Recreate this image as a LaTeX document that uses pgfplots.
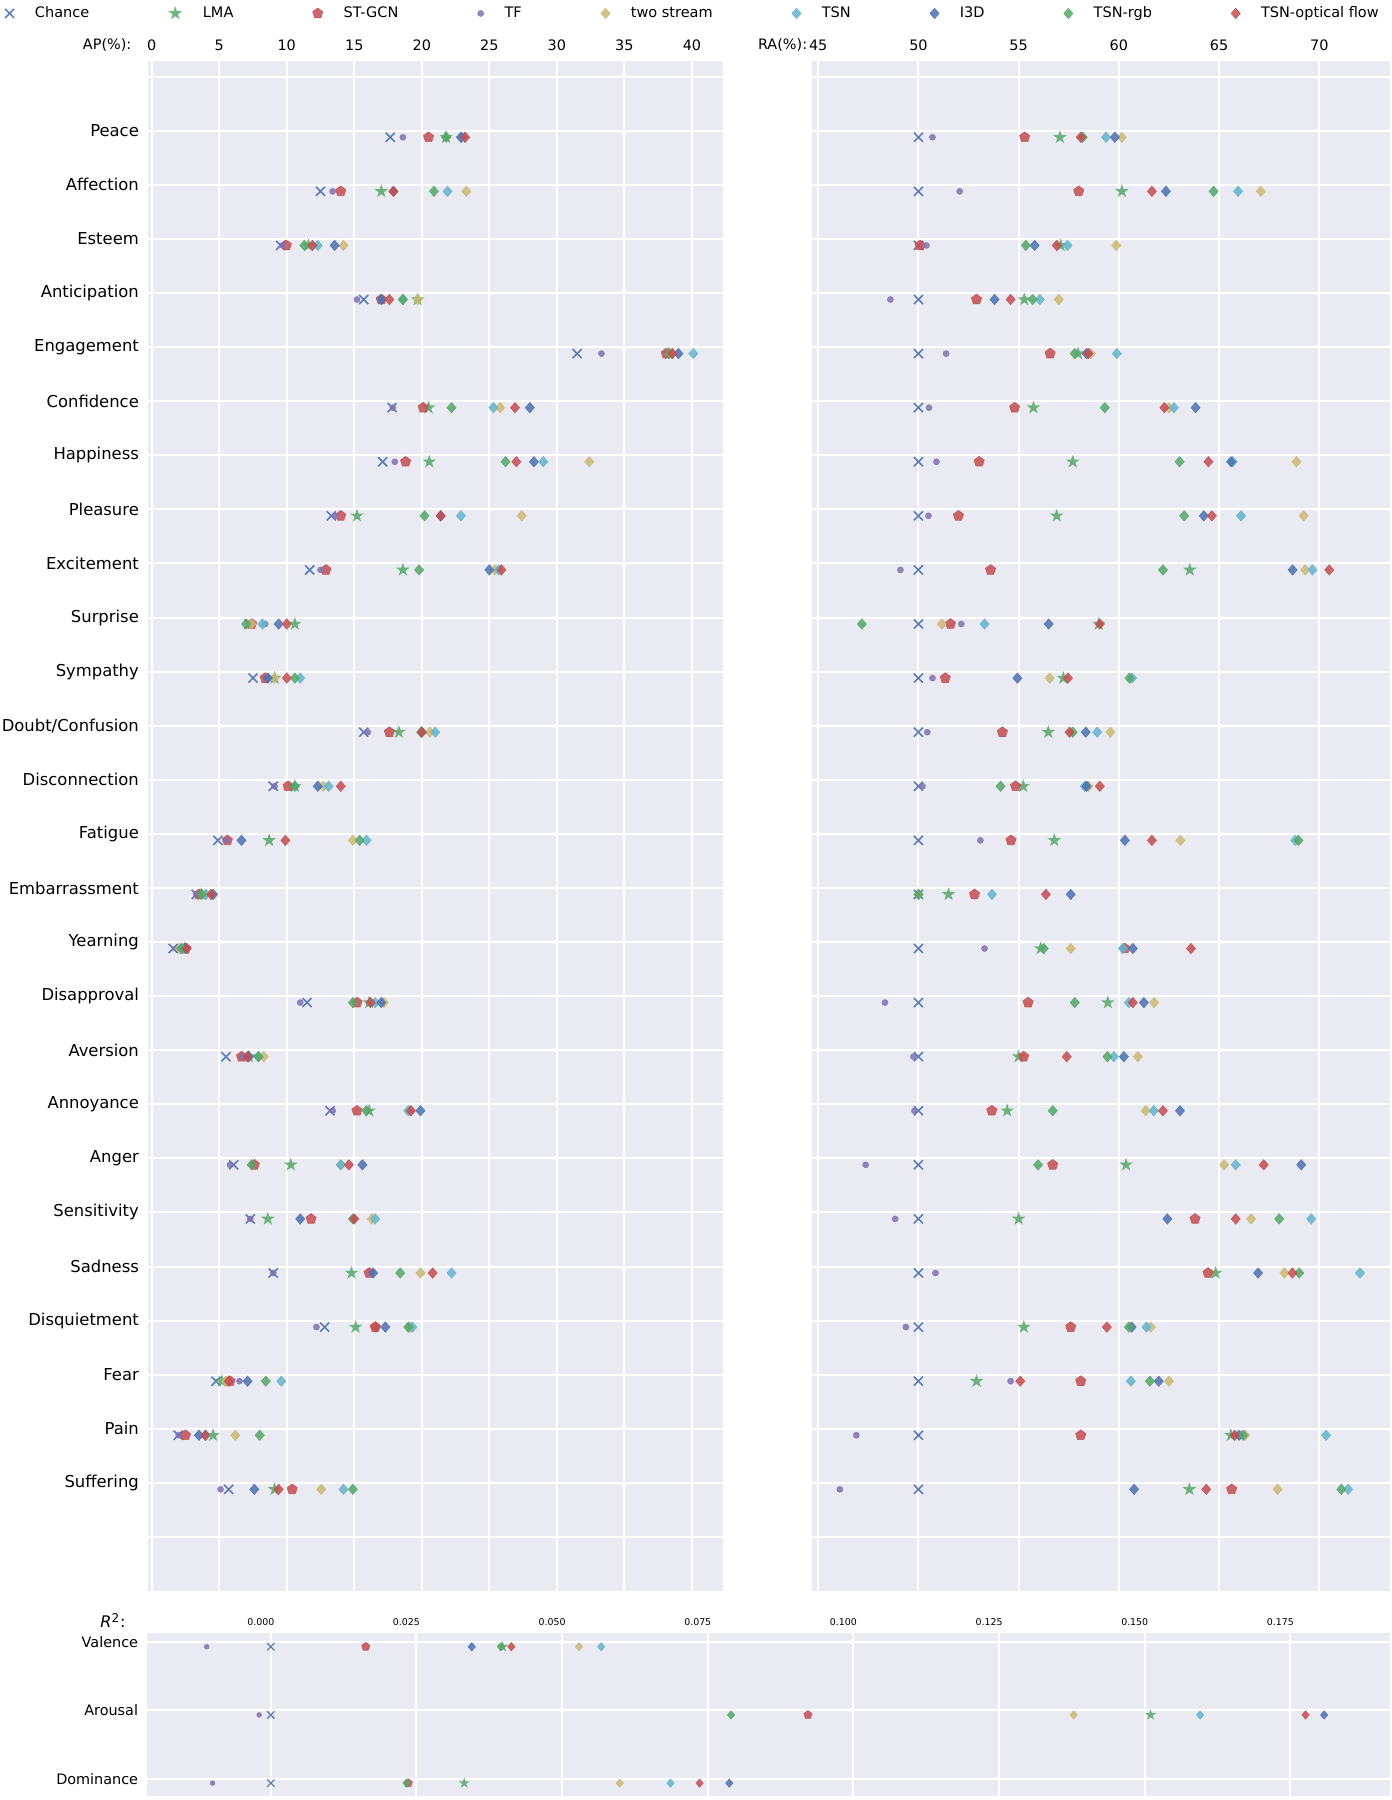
\documentclass[border=0pt]{standalone}
\usepackage{fontspec}
\setmainfont{DejaVu Sans}
\usepackage{pgfplots}
\pgfplotsset{compat=1.18}
\usepackage{pgfplotstable}
\usetikzlibrary{plotmarks}
\definecolor{cblue}{HTML}{4C72B0}
\definecolor{cgreen}{HTML}{55A868}
\definecolor{cred}{HTML}{C44E52}
\definecolor{cpurple}{HTML}{8172B2}
\definecolor{cyellow}{HTML}{CCB974}
\definecolor{ccyan}{HTML}{64B5CD}
\definecolor{bgc}{HTML}{EAEAF2}
\newcommand\fs[1]{\fontsize{#1}{#1}\selectfont}
\pgfdeclareplotmark{fstar}{%
 \pgfpathmoveto{\pgfpointpolar{90}{\pgfplotmarksize}}%
 \pgfpathlineto{\pgfpointpolar{126}{0.382\pgfplotmarksize}}%
 \pgfpathlineto{\pgfpointpolar{162}{\pgfplotmarksize}}%
 \pgfpathlineto{\pgfpointpolar{198}{0.382\pgfplotmarksize}}%
 \pgfpathlineto{\pgfpointpolar{234}{\pgfplotmarksize}}%
 \pgfpathlineto{\pgfpointpolar{270}{0.382\pgfplotmarksize}}%
 \pgfpathlineto{\pgfpointpolar{306}{\pgfplotmarksize}}%
 \pgfpathlineto{\pgfpointpolar{342}{0.382\pgfplotmarksize}}%
 \pgfpathlineto{\pgfpointpolar{18}{\pgfplotmarksize}}%
 \pgfpathlineto{\pgfpointpolar{54}{0.382\pgfplotmarksize}}%
 \pgfpathclose
 \pgfusepathqfill}
\pgfplotsset{
 mk/.style={only marks, legend image code/.code={\draw[mark repeat=1,##1] plot coordinates {(0pt,0pt)};}},
 pChance/.style={mk, mark=x, mark size=#1*3.2pt, color=cblue, mark options={line width=#1*0.8pt, draw opacity=0.9}},
 pLMA/.style={mk, mark=fstar, mark size=#1*3.6pt, color=cgreen, mark options={fill opacity=0.85}},
 pST/.style={mk, mark=pentagon*, mark size=#1*2.7pt, color=cred, mark options={fill opacity=0.85, draw opacity=0.85, line width=0.3pt}},
 pTF/.style={mk, mark=*, mark size=#1*1.55pt, color=cpurple, mark options={fill opacity=0.85, draw opacity=0.85, line width=0.2pt}},
 pTwo/.style={mk, mark=diamond*, mark size=#1*2.6pt, color=cyellow, mark options={xscale=1.17, fill opacity=0.85, draw opacity=0.85, line width=0.3pt}},
 pTSN/.style={mk, mark=diamond*, mark size=#1*2.6pt, color=ccyan, mark options={xscale=1.17, fill opacity=0.85, draw opacity=0.85, line width=0.3pt}},
 pI3D/.style={mk, mark=diamond*, mark size=#1*2.6pt, color=cblue, mark options={xscale=1.17, fill opacity=0.85, draw opacity=0.85, line width=0.3pt}},
 pRGB/.style={mk, mark=diamond*, mark size=#1*2.6pt, color=cgreen, mark options={xscale=1.17, fill opacity=0.85, draw opacity=0.85, line width=0.3pt}},
 pOPT/.style={mk, mark=diamond*, mark size=#1*2.6pt, color=cred, mark options={xscale=1.17, fill opacity=0.85, draw opacity=0.85, line width=0.3pt}},
 base/.style={scale only axis, anchor=south west, y dir=reverse,
   axis background/.style={fill=bgc}, axis line style={draw=none},
   major tick length=0pt, tick style={draw=none}, grid=major,
   major grid style={white, line width=1pt},
   xticklabel pos=upper, /pgf/number format/assume math mode=true},
}
\pgfplotstableread{
Chance LMA STGCN TF Two TSN I3D RGB OPT
17.66 21.8 20.5 18.6 23.2 22.95 22.9 21.8 23.2
12.5 17.0 14.0 13.4 23.3 21.9 17.9 20.9 17.9
9.55 11.6 9.97 9.7 14.2 12.3 13.55 11.3 11.9
15.7 19.7 17.0 15.2 19.7 18.6 17.0 18.6 17.6
31.5 38.3 38.1 33.3 38.5 40.1 39.0 38.3 38.55
17.8 20.5 20.1 17.85 25.8 25.3 28.0 22.2 26.9
17.1 20.55 18.8 18.0 32.4 29.0 28.3 26.2 27.0
13.3 15.2 14.0 13.6 27.4 22.9 21.4 20.2 21.4
11.7 18.6 12.9 12.5 25.4 25.7 25.0 19.8 25.9
7.2 10.6 7.4 8.4 7.4 8.2 9.4 7.0 10.0
7.5 9.1 8.4 8.5 9.1 11.0 8.6 10.6 10.0
15.7 18.3 17.6 16.0 20.6 21.0 20.0 19.95 20.0
9.0 10.6 10.1 9.1 12.7 13.1 12.3 10.6 14.0
4.9 8.7 5.6 5.5 14.9 15.9 6.65 15.4 9.9
3.3 3.7 3.5 3.3 4.0 4.0 4.55 3.7 4.4
1.6 2.45 2.5 1.8 2.07 2.3 2.5 2.2 2.6
11.5 16.1 15.2 11.0 17.2 16.55 17.0 14.9 16.2
5.5 7.2 6.65 6.7 8.3 7.9 7.2 7.9 7.1
13.2 16.1 15.2 13.4 19.1 19.0 19.9 15.9 19.2
6.07 10.3 7.6 5.8 14.0 14.0 15.6 7.4 14.6
7.3 8.6 11.8 7.3 16.3 16.55 11.0 14.9 15.0
9.0 14.8 16.1 9.0 19.9 22.2 16.4 18.4 20.8
12.8 15.1 16.55 12.2 19.1 19.3 17.3 19.0 16.6
4.76 5.2 5.8 6.5 5.5 9.6 7.1 8.45 5.7
1.97 4.55 2.5 2.0 6.2 4.0 3.5 8.0 3.97
5.7 9.1 10.4 5.1 12.55 14.2 7.6 14.9 9.4
}\apdata
\pgfplotstableread{
Chance LMA STGCN TF Two TSN I3D RGB OPT
50 57.06 55.3 50.7 60.15 59.36 59.8 58.2 58.1
50 60.15 58.0 52.06 67.08 65.95 62.35 64.73 61.65
50 57.1 50.08 50.4 59.87 57.44 55.8 55.36 56.9
50 55.28 52.9 48.6 57.0 56.06 53.8 55.7 54.6
50 57.97 56.57 51.38 58.6 59.9 58.39 57.8 58.48
50 55.74 54.8 50.53 62.5 62.75 63.83 59.3 62.27
50 57.7 53.03 50.9 68.86 65.68 65.6 63.03 64.47
50 56.9 52.0 50.5 69.22 66.1 64.24 63.26 64.64
50 63.54 53.6 49.1 69.3 69.66 68.67 62.2 70.5
50 59.0 51.6 52.14 51.17 53.3 56.5 47.18 59.05
50 57.23 51.34 50.7 56.55 60.66 54.94 60.53 57.46
50 56.48 54.19 50.44 59.58 58.92 58.35 57.7 57.54
50 55.23 54.85 50.2 58.48 58.3 58.39 54.1 59.05
50 56.78 54.62 53.09 63.07 68.8 60.3 68.96 61.65
50 51.5 52.8 50.0 50.0 53.67 57.6 50.0 56.36
50 56.1 60.3 53.3 57.6 60.2 60.7 56.25 63.6
50 59.45 55.47 48.33 61.76 60.5 61.25 57.8 60.7
50 55.0 55.25 49.75 60.95 59.75 60.25 59.43 57.4
50 54.43 53.66 49.8 61.34 61.74 63.05 56.7 62.2
50 60.36 56.7 47.37 65.25 65.83 69.1 55.97 67.23
50 55.0 63.8 48.84 66.6 69.6 62.42 68.0 65.83
50 64.83 64.45 50.85 68.26 72.03 66.95 69.0 68.66
50 55.26 57.6 49.375 61.6 61.38 60.64 60.5 59.4
50 52.9 58.1 54.6 62.5 60.6 61.99 61.55 55.08
50 65.59 58.1 46.9 66.3 70.34 66.0 66.2 65.78
50 63.52 65.63 46.08 67.92 71.44 60.76 71.1 64.36
}\radata
\pgfplotstableread{
Chance LMA STGCN TF Two TSN I3D RGB OPT
0 0.0398 0.0163 -0.011 0.0529 0.0567 0.0345 0.0395 0.0413
0 0.151 0.0922 -0.002 0.1378 0.1595 0.1808 0.079 0.1776
0 0.0332 0.0236 -0.010 0.0599 0.0686 0.0787 0.0233 0.0736
}\rdata
\begin{document}
\begin{tikzpicture}
\useasboundingbox (0pt,0pt) rectangle (696pt,900pt);
% left panel: AP
\begin{axis}[base, at={(74.15pt,104.5pt)}, width=287.35pt, height=765pt,
  xmin=-0.25, xmax=42.3, ymin=-1.29, ymax=27,
  xtick={0,5,...,40}, ytick={-1,0,...,26},
  xticklabel style={font=\fs{7.2}, anchor=base, yshift=5.5pt},
  yticklabel style={font=\fs{8.2}, xshift=-1.2pt},
  yticklabels={,Peace,Affection,Esteem,Anticipation,Engagement,Confidence,Happiness,Pleasure,Excitement,Surprise,Sympathy,Doubt/Confusion,Disconnection,Fatigue,Embarrassment,Yearning,Disapproval,Aversion,Annoyance,Anger,Sensitivity,Sadness,Disquietment,Fear,Pain,Suffering,},
  legend columns=9,
  legend cell align=left,
  legend style={at={(axis description cs:-0.2499,1.0311)}, anchor=west, draw=none, fill=none, inner sep=0pt, font=\fs{7.25},
    /tikz/every odd column/.append style={column sep=8.4pt},
    /tikz/every even column/.append style={column sep=37.6pt}},
]
\addplot[pChance=1] table[x=Chance, y expr=\coordindex+0.12]{\apdata};
\addplot[pLMA=1] table[x=LMA, y expr=\coordindex+0.12]{\apdata};
\addplot[pST=1] table[x=STGCN, y expr=\coordindex+0.12]{\apdata};
\addplot[pTF=1] table[x=TF, y expr=\coordindex+0.12]{\apdata};
\addplot[pTwo=1] table[x=Two, y expr=\coordindex+0.12]{\apdata};
\addplot[pTSN=1] table[x=TSN, y expr=\coordindex+0.12]{\apdata};
\addplot[pI3D=1] table[x=I3D, y expr=\coordindex+0.12]{\apdata};
\addplot[pRGB=1] table[x=RGB, y expr=\coordindex+0.12]{\apdata};
\addplot[pOPT=1] table[x=OPT, y expr=\coordindex+0.12]{\apdata};
\legend{Chance,LMA,ST-GCN,TF,two stream,TSN,I3D,TSN-rgb,TSN-optical flow}
\end{axis}
% right panel: RA
\begin{axis}[base, at={(406pt,104.5pt)}, width=289pt, height=765pt,
  xmin=44.69, xmax=73.53, ymin=-1.29, ymax=27,
  xtick={45,50,...,70}, ytick={-1,0,...,26},
  yticklabels={,,,,,,,,,,,,,,,,,,,,,,,,,,,},
  xticklabel style={font=\fs{7.2}, anchor=base, yshift=5.5pt},
]
\addplot[pChance=1] table[x=Chance, y expr=\coordindex+0.12]{\radata};
\addplot[pLMA=1] table[x=LMA, y expr=\coordindex+0.12]{\radata};
\addplot[pST=1] table[x=STGCN, y expr=\coordindex+0.12]{\radata};
\addplot[pTF=1] table[x=TF, y expr=\coordindex+0.12]{\radata};
\addplot[pTwo=1] table[x=Two, y expr=\coordindex+0.12]{\radata};
\addplot[pTSN=1] table[x=TSN, y expr=\coordindex+0.12]{\radata};
\addplot[pI3D=1] table[x=I3D, y expr=\coordindex+0.12]{\radata};
\addplot[pRGB=1] table[x=RGB, y expr=\coordindex+0.12]{\radata};
\addplot[pOPT=1] table[x=OPT, y expr=\coordindex+0.12]{\radata};
\end{axis}
% bottom panel: R^2
\begin{axis}[base, at={(73.35pt,2pt)}, width=621.65pt, height=81.35pt,
  xmin=-0.0213, xmax=0.1921, ymin=-0.132, ymax=2.254,
  xtick={0,0.025,0.05,0.075,0.1,0.125,0.15,0.175},
  xticklabels={0.000,0.025,0.050,0.075,0.100,0.125,0.150,0.175},
  xticklabel style={font=\fs{4.7}, anchor=base, yshift=3.8pt, xshift=-5pt},
  ytick={0,1,2}, yticklabels={Valence,Arousal,Dominance},
  yticklabel style={font=\fs{7.2}, xshift=-0.8pt},
]
\addplot[pChance=0.8] table[x=Chance, y expr=\coordindex+0.065]{\rdata};
\addplot[pLMA=0.8] table[x=LMA, y expr=\coordindex+0.065]{\rdata};
\addplot[pST=0.8] table[x=STGCN, y expr=\coordindex+0.065]{\rdata};
\addplot[pTF=0.8] table[x=TF, y expr=\coordindex+0.065]{\rdata};
\addplot[pTwo=0.8] table[x=Two, y expr=\coordindex+0.065]{\rdata};
\addplot[pTSN=0.8] table[x=TSN, y expr=\coordindex+0.065]{\rdata};
\addplot[pI3D=0.8] table[x=I3D, y expr=\coordindex+0.065]{\rdata};
\addplot[pRGB=0.8] table[x=RGB, y expr=\coordindex+0.065]{\rdata};
\addplot[pOPT=0.8] table[x=OPT, y expr=\coordindex+0.065]{\rdata};
\end{axis}
\node[anchor=base east, font=\fs{7.2}, inner sep=0pt] at (65.85pt,875pt) {AP(\%):};
\node[anchor=base east, font=\fs{7.2}, inner sep=0pt] at (403.75pt,875pt) {RA(\%):};
\node[anchor=base west, font=\fs{8}, inner sep=0pt] at (50pt,86.15pt) {\itshape R\textsuperscript{\upshape 2}\upshape :};
\end{tikzpicture}
\end{document}
